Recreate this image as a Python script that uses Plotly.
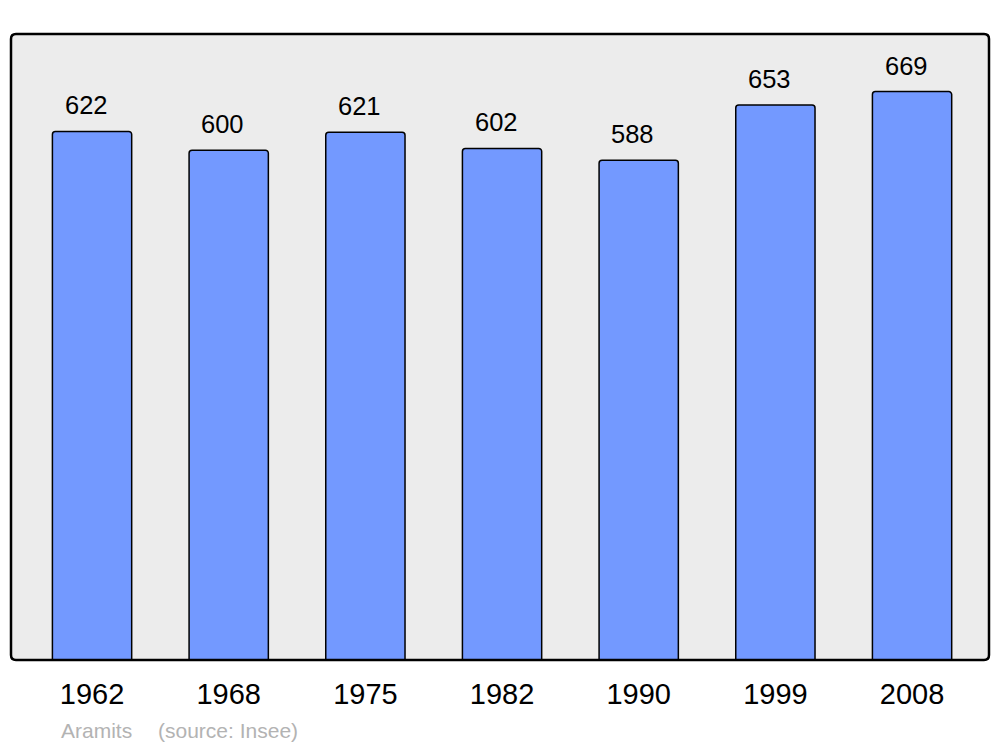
import plotly.graph_objects as go

years = ["1962", "1968", "1975", "1982", "1990", "1999", "2008"]
population = [622, 600, 621, 602, 588, 653, 669]
commune = "Aramits"
source = "(source: Insee)"

fig = go.Figure()
fig.add_trace(go.Bar(
    x=list(range(len(years))), y=population,
    width=0.58,
    marker=dict(color="#7399ff", line=dict(color="black", width=1.5), cornerradius=3),
    hoverinfo="skip",
))

for i, v in enumerate(population):
    fig.add_annotation(x=i, y=v, text=str(v), showarrow=False,
                       xref="x", yref="y", yanchor="bottom", yshift=10, xshift=-6,
                       font=dict(family="Liberation Sans, Arial", size=25.5, color="black"))

r_x = 5 / 978
r_y = 5 / 626
path = (f"M {r_x},0 L {1-r_x},0 Q 1,0 1,{r_y} L 1,{1-r_y} Q 1,1 {1-r_x},1 "
        f"L {r_x},1 Q 0,1 0,{1-r_y} L 0,{r_y} Q 0,0 {r_x},0 Z")

fig.add_annotation(x=(59 - 11) / 978, y=-(730 - 660) / 626, xref="paper", yref="paper",
                   text=commune, showarrow=False, xanchor="left", yanchor="middle",
                   font=dict(size=21, color="#b3b3b3"))
fig.add_annotation(x=(156 - 11) / 978, y=-(730 - 660) / 626, xref="paper", yref="paper",
                   text=source, showarrow=False, xanchor="left", yanchor="middle",
                   font=dict(size=21, color="#b3b3b3"))

fig.update_layout(
    width=992, height=739,
    margin=dict(l=3, r=11, t=26, b=87),
    paper_bgcolor="white",
    plot_bgcolor="#ececec",
    showlegend=False,
    font=dict(family="Liberation Sans, Arial", color="black"),
    xaxis=dict(range=[-0.593, 6.563], showgrid=False, zeroline=False,
               tickmode="array", tickvals=list(range(len(years))), ticktext=years,
               showline=False, ticks="", tickfont=dict(size=29, color="black"),
               ticklabelstandoff=14),
    yaxis=dict(range=[0, 736.7], showgrid=False, zeroline=False, showticklabels=False,
               showline=False, ticks=""),
    shapes=[dict(type="path", path=path, xref="paper", yref="paper",
                 line=dict(color="black", width=2.5), layer="above")],
)

fig.write_html("out.html")
